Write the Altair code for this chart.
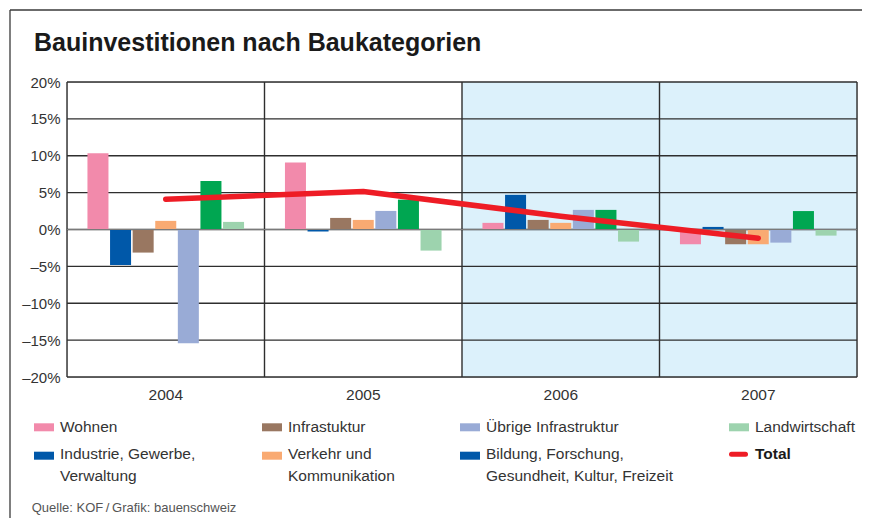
import altair as alt
import pandas as pd

# ---------------- data ----------------
years = ["2004", "2005", "2006", "2007"]
categories = [
    "Wohnen",
    "Industrie, Gewerbe, Verwaltung",
    "Infrastuktur",
    "Verkehr und Kommunikation",
    "Übrige Infrastruktur",
    "Bildung, Forschung, Gesundheit, Kultur, Freizeit",
    "Landwirtschaft",
]
bar_colors = ["#f28aab", "#0058a9", "#997761", "#f9aa72", "#99abd6", "#00a651", "#9dd3ae"]

wohnen = [10.35, 9.07, 0.9, -2.0]
industrie = [-4.8, -0.28, 4.7, 0.35]
infrastuktur = [-3.13, 1.57, 1.3, -2.0]
verkehr = [1.17, 1.3, 0.9, -2.0]
uebrige = [-15.42, 2.52, 2.66, -1.78]
bildung = [6.59, 4.05, 2.66, 2.5]
landwirtschaft = [1.03, -2.86, -1.64, -0.83]
total = [4.1, 5.14, 1.8, -1.18]

y_ticks = [-20, -15, -10, -5, 0, 5, 10, 15, 20]
shaded_years = ["2006", "2007"]

legend_labels = [
    "Wohnen", "Infrastuktur", "Übrige Infrastruktur", "Landwirtschaft",
    "Industrie, Gewerbe,\nVerwaltung", "Verkehr und\nKommunikation",
    "Bildung, Forschung,\nGesundheit, Kultur, Freizeit", "Total",
]
legend_colors = ["#f28aab", "#997761", "#99abd6", "#9dd3ae",
                 "#0058a9", "#f9aa72", "#0058a9", "#ee1c25"]

title_text = "Bauinvestitionen nach Baukategorien"
source_text = "Quelle: KOF\u2009/\u2009Grafik: bauenschweiz"

# ---------------- tables ----------------
series = [wohnen, industrie, infrastuktur, verkehr, uebrige, bildung, landwirtschaft]
bars_df = pd.DataFrame(
    [{"year": y, "cat": c, "value": s[i]} for c, s in zip(categories, series) for i, y in enumerate(years)]
)
total_df = pd.DataFrame({"year": years, "total": total})
ticks_df = pd.DataFrame({"v": y_ticks})
years_df = pd.DataFrame({"year": years})
last_df = pd.DataFrame({"year": years[-1:]})
shade_df = pd.DataFrame({"year": shaded_years})
one = pd.DataFrame({"k": [0]})

W, H = 790, 295
FONT = "Liberation Sans"
DARK = "#2e2e2e"

x_scale = alt.Scale(domain=years, paddingInner=0, paddingOuter=0)
y_scale = alt.Scale(domain=[-20, 20], nice=False, zero=False)

x_axis = alt.Axis(labelAngle=0, labelPadding=10, labelFontSize=15.5, labelFont=FONT,
                  labelColor="#333333", ticks=False, domain=False, grid=False)
y_axis = alt.Axis(values=y_ticks, labelPadding=7, labelFontSize=15, labelFont=FONT,
                  labelColor="#333333", ticks=False, domain=False, grid=False,
                  labelOverlap=False, labelFlush=False,
                  labelExpr="(datum.value < 0 ? '\u2013' : '') + abs(datum.value) + '%'")

shade = alt.Chart(shade_df).mark_rect(color="#dcf1fb").encode(
    x=alt.X("year:N", scale=x_scale, title=None, axis=x_axis),
    y=alt.YDatum(20, type="quantitative", scale=y_scale, axis=y_axis, title=None),
    y2=alt.datum(-20),
)

hgrid = alt.Chart(ticks_df).mark_rule(color=DARK, strokeWidth=1.4).encode(
    y=alt.Y("v:Q", scale=y_scale, title=None, axis=y_axis)
)
vgrid = alt.Chart(years_df).mark_rule(color=DARK, strokeWidth=1.4).encode(
    x=alt.X("year:N", bandPosition=0, scale=x_scale, title=None, axis=x_axis)
)
vright = alt.Chart(last_df).mark_rule(color=DARK, strokeWidth=1.4).encode(
    x=alt.X("year:N", bandPosition=1, scale=x_scale, title=None, axis=x_axis)
)

bars = alt.Chart(bars_df).mark_bar().encode(
    x=alt.X("year:N", scale=x_scale, title=None, axis=x_axis),
    xOffset=alt.XOffset("cat:N", sort=categories,
                        scale=alt.Scale(paddingInner=0.07, paddingOuter=0.905)),
    y=alt.Y("value:Q", scale=y_scale, title=None, axis=y_axis),
    color=alt.Color("cat:N", sort=categories,
                    scale=alt.Scale(domain=categories, range=bar_colors), legend=None),
)

zero = alt.Chart(pd.DataFrame({"v": [0]})).mark_rule(color="#7a7a7a", strokeWidth=1.2).encode(
    y=alt.Y("v:Q", scale=y_scale, title=None, axis=y_axis)
)

line = alt.Chart(total_df).mark_line(color="#ee1c25", strokeWidth=5.5, strokeCap="round",
                                     strokeJoin="round").encode(
    x=alt.X("year:N", scale=x_scale, title=None, axis=x_axis),
    y=alt.Y("total:Q", scale=y_scale, title=None, axis=y_axis),
)

# ---------------- decorations (outside plot area) ----------------
layers = [shade, hgrid, vgrid, vright, bars, zero, line]

# outer frame (left and top)
layers.append(alt.Chart(one).mark_rule(color="#3a3a3a", strokeWidth=1.3).encode(
    x=alt.value(-57), y=alt.value(-72), y2=alt.value(460)))
layers.append(alt.Chart(one).mark_rule(color="#3a3a3a", strokeWidth=1.3).encode(
    x=alt.value(-57), x2=alt.value(820), y=alt.value(-72)))

# title and source
layers.append(alt.Chart(pd.DataFrame({"t": [title_text]})).mark_text(
    font=FONT, fontSize=25, fontWeight="bold", color="#1a1a1a",
    align="left", baseline="alphabetic").encode(
    text="t:N", x=alt.value(-33), y=alt.value(-31)))
layers.append(alt.Chart(pd.DataFrame({"t": [source_text]})).mark_text(
    font=FONT, fontSize=13, color="#555555",
    align="left", baseline="alphabetic").encode(
    text="t:N", x=alt.value(-35.3), y=alt.value(429.7)))

# legend
sw_x = [-33, 195, 393, 662]
tx_x = [-7, 221, 419, 688]
row_c = [345.3, 373.7]
txt_top = [337.5, 365.1]
LFS = 15.5
for i, (lab, col) in enumerate(zip(legend_labels, legend_colors)):
    c, r = i % 4, i // 4
    if lab == "Total":
        layers.append(alt.Chart(one).mark_rule(color=col, strokeWidth=5, strokeCap="round").encode(
            x=alt.value(sw_x[c] + 2.5), x2=alt.value(sw_x[c] + 16.5), y=alt.value(row_c[r] - 1.5)))
    else:
        layers.append(alt.Chart(one).mark_rect(color=col).encode(
            x=alt.value(sw_x[c]), x2=alt.value(sw_x[c] + 20),
            y=alt.value(row_c[r] - 4), y2=alt.value(row_c[r] + 4)))
    layers.append(alt.Chart(pd.DataFrame({"label": [lab]})).mark_text(
        font=FONT, fontSize=LFS, color="#333333" if lab != "Total" else "#1a1a1a",
        fontWeight="bold" if lab == "Total" else "normal",
        align="left", baseline="top", lineBreak="\n", lineHeight=21.7).encode(
        text="label:N", x=alt.value(tx_x[c]), y=alt.value(txt_top[r])))

chart = alt.layer(*layers).properties(
    width=W, height=H,
    autosize=alt.AutoSizeParams(type="none"),
    padding={"left": 59, "top": 74, "right": 5, "bottom": 141},
).configure_view(stroke=None).configure(background="white")

chart.save("out.html", embed_options={"renderer": "svg", "actions": False})
